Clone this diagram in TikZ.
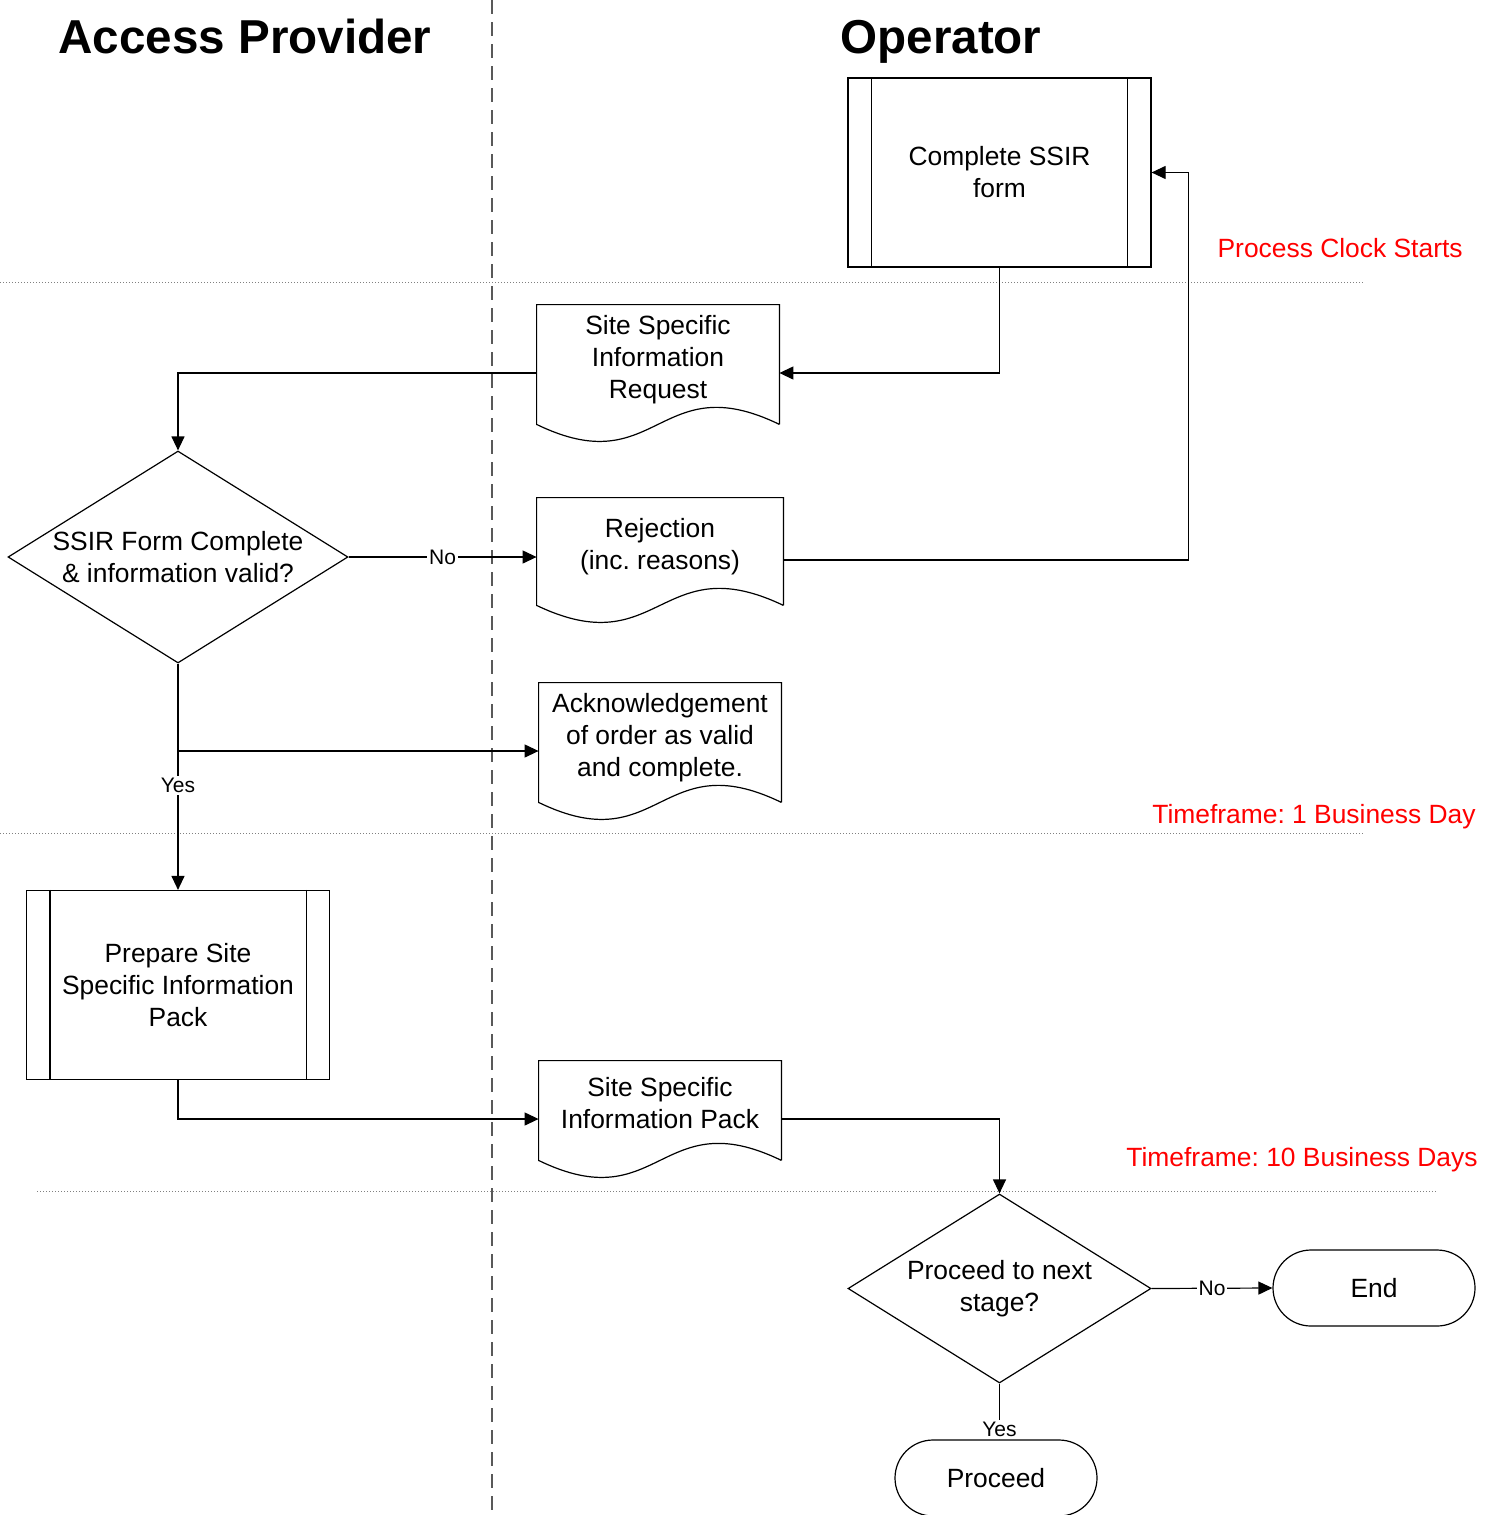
\documentclass[tikz,border=0pt]{standalone}
\usepackage{fontspec}
\setmainfont{Liberation Sans}
\usetikzlibrary{arrows.meta, shapes.geometric, calc}
\frenchspacing

\tikzset{
	txt/.style={font=\fontsize{13.2}{16}\selectfont, align=center},
	flow/.style={line width=0.6pt, -{Triangle[length=7pt, width=6.5pt]}},
	predef/.style={txt, draw, line width=0.6pt, rectangle, minimum width=151.5pt, minimum height=94.5pt},
	docbox/.style={txt, rectangle, inner sep=0pt, text depth=16pt},
	decision/.style={txt, draw, line width=0.6pt, diamond, aspect=1.6, inner sep=0pt, fill=white},
	terminal/.style={txt, draw, line width=0.6pt, rectangle, rounded corners=19pt, minimum width=101pt, minimum height=38pt},
	answer/.style={font=\fontsize{10.5}{12}\selectfont, fill=white, inner sep=1pt},
	clock/.style={font=\fontsize{13.2}{16}\selectfont, text=red, anchor=base east, inner sep=0pt},
	lane/.style={font=\bfseries\fontsize{23.8}{28}\selectfont, anchor=base, inner sep=0pt},
	divider/.style={gray, line width=0.5pt, dash pattern=on 0.5pt off 1pt},
}
\newcommand{\docoutline}[1]{\draw[line width=0.6pt] ($(#1.south east)+(0,-17)$) -- (#1.north east) -- (#1.north west) -- ($(#1.south west)+(0,-17)$) .. controls ($(#1.south)+(0,42)$) and ($(#1.south)+(0,-76)$) .. ($(#1.south east)+(0,-17)$);}
\newcommand{\predefbars}[1]{\draw[line width=0.6pt] ($(#1.north west)+(24,0)$) -- ($(#1.south west)+(24,0)$) ($(#1.north east)+(-24,0)$) -- ($(#1.south east)+(-24,0)$);}

\begin{document}
\begin{tikzpicture}[x=0.5pt, y=-0.5pt]
	\useasboundingbox (0,0) rectangle (1497,1515);
	% swimlanes and time gates
	\draw[gray!70!black, line width=0.6pt, dash pattern=on 7pt off 4pt] (492,0) -- (492,1515);
	\draw[divider] (0,282) -- (1363,282) (0,833) -- (1363,833) (37,1191) -- (1437,1191);
	\node[lane] (aptitle) at (245,54) {Access Provider};
	\node[lane] (optitle) at (941,54) {Operator};
	\node[clock] (clockstart) at (1463,257) {Process Clock Starts};
	\node[clock] (oneday) at (1476,823) {Timeframe: 1 Business Day};
	\node[clock] (tendays) at (1478,1166) {Timeframe: 10 Business Days};

	\node[predef] (form) at (999.5,172.5) {Complete SSIR\\form};
	\predefbars{form}
	\node[docbox, minimum width=121pt, minimum height=68pt] (req) at (658,373) {Site Specific\\Information\\Request};
	\docoutline{req}
	\node[decision, minimum width=170pt, minimum height=106pt] (valid) at (178,557) {SSIR Form Complete\\\& information valid?};
	\node[docbox, minimum width=123pt, minimum height=62pt] (rej) at (660,560) {Rejection\\(inc. reasons)};
	\docoutline{rej}
	\node[docbox, minimum width=121pt, minimum height=68pt] (ack) at (660,751) {Acknowledgement\\of order as valid\\and complete.};
	\docoutline{ack}
	\node[predef] (prep) at (178,985) {Prepare Site\\Specific Information\\Pack};
	\predefbars{prep}
	\node[docbox, minimum width=121pt, minimum height=58pt] (pack) at (660,1119) {Site Specific\\Information Pack};
	\docoutline{pack}
	\node[decision, minimum width=151.5pt, minimum height=94.5pt] (next) at (999.5,1288.5) {Proceed to next\\stage?};
	\node[terminal] (stop) at (1374,1288) {End};
	\node[terminal] (proceed) at (996,1478) {Proceed};

	\draw[flow] (form.south) |- (req.east);
	\draw[flow] (req.west) -| (valid.north);
	\draw[flow] (valid.east) -- (valid.east -| rej.west) node[answer, midway] {No};
	\draw[flow] (rej.east) -| ($(form.east)+(37,0)$) -- (form.east);
	\draw[flow] (valid.south) -- (prep.north) node[answer, pos=0.54] {Yes};
	\draw[flow] (valid.south |- ack.west) -- (ack.west);
	\draw[flow] (prep.south) |- (pack.west);
	\draw[flow] (pack.east) -| (next.north);
	\draw[flow] (next.east) -- (stop.west) node[answer, midway] {No};
	\draw[flow] (next.south) -- (next.south |- proceed.north) node[answer, pos=0.82] {Yes};
\end{tikzpicture}
\end{document}
